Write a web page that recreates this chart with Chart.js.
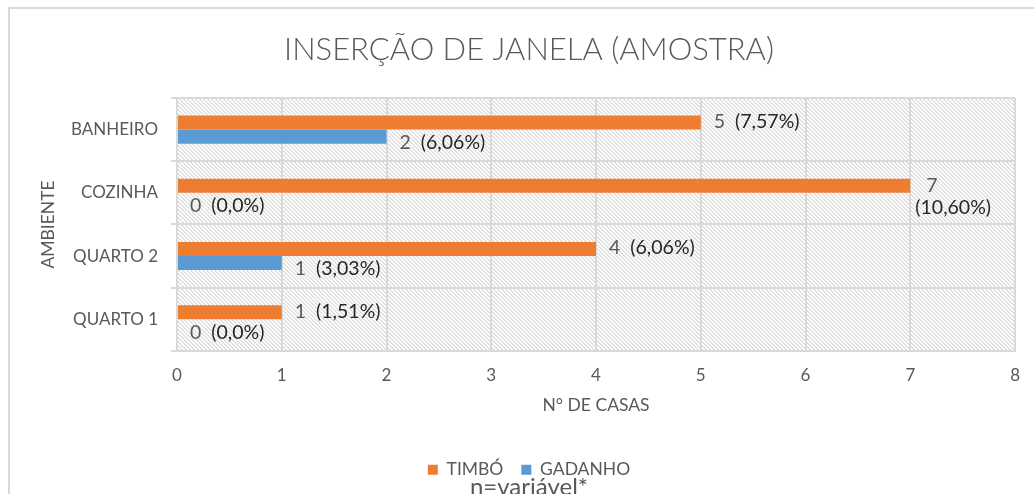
<!DOCTYPE html>
<html>
<head>
  <title>Inserção de janela</title>
  <script src="https://cdn.jsdelivr.net/npm/chart.js"></script>
  <style>
    body { margin: 0; background: #fff; }
    #wrap { width: 1034px; height: 494px; position: relative; }
  </style>
</head>
<body>
  <div id="wrap"><canvas id="chart"></canvas></div>
  <script>
    // data
    const categories = ['BANHEIRO', 'COZINHA', 'QUARTO 2', 'QUARTO 1'];
    const timbo = [5, 7, 4, 1];
    const gadanho = [2, 0, 1, 0];
    const timboPct = ['(7,57%)', '(10,60%)', '(6,06%)', '(1,51%)'];
    const gadanhoPct = ['(6,06%)', '(0,0%)', '(3,03%)', '(0,0%)'];
    const xMin = 0, xMax = 8, xStep = 1;

    const FONT = 'Lato, "Open Sans", sans-serif';
    const GRAY = '#595959';
    const GRID = '#d9d9d9';

    // light diagonal hatch like the Excel plot area fill
    function makeHatch() {
      const c = document.createElement('canvas');
      c.width = 8; c.height = 8;
      const g = c.getContext('2d');
      const img = g.createImageData(8, 8);
      for (let y = 0; y < 8; y++) {
        for (let x = 0; x < 8; x++) {
          const i = (y * 8 + x) * 4;
          const on = ((x - y + 16) % 4) < 2;
          const v = on ? 225 : 255;
          img.data[i] = v; img.data[i + 1] = v; img.data[i + 2] = v; img.data[i + 3] = 255;
        }
      }
      g.putImageData(img, 0, 0);
      return c;
    }
    const hatchTile = makeHatch();

    const backdrop = {
      id: 'backdrop',
      beforeDraw(chart) {
        const ctx = chart.ctx, a = chart.chartArea;
        ctx.save();
        ctx.fillStyle = '#fff';
        ctx.fillRect(0, 0, chart.width, chart.height);
        ctx.strokeStyle = GRID;
        ctx.lineWidth = 2;
        ctx.strokeRect(9, 8, chart.width + 20, chart.height + 20);
        ctx.fillStyle = ctx.createPattern(hatchTile, 'repeat');
        ctx.fillRect(a.left, a.top, a.right - a.left, a.bottom - a.top);
        ctx.restore();
      }
    };

    const pctLabels = [timboPct, gadanhoPct];
    const valueLabels = {
      id: 'valueLabels',
      afterDatasetsDraw(chart) {
        const ctx = chart.ctx, a = chart.chartArea;
        ctx.save();
        ctx.font = '19.5px ' + FONT;
        ctx.textBaseline = 'middle';
        ctx.textAlign = 'left';
        chart.data.datasets.forEach((ds, di) => {
          chart.getDatasetMeta(di).data.forEach((bar, i) => {
            const num = String(ds.data[i]);
            const pct = pctLabels[di][i];
            const x = bar.x + 13;
            const y = bar.y + (di === 0 ? -1 : 6);
            const wNum = ctx.measureText(num).width;
            const wPct = ctx.measureText(pct).width;
            if (x + wNum + 10 + wPct > a.right + 2) {
              // not enough room: wrap the percentage under the number
              ctx.fillStyle = GRAY;
              ctx.fillText(num, x + 3, bar.y);
              ctx.fillStyle = '#262626';
              ctx.fillText(pct, bar.x + 5, bar.y + 22);
            } else {
              ctx.fillStyle = GRAY;
              ctx.fillText(num, x, y);
              ctx.fillStyle = '#262626';
              ctx.fillText(pct, x + wNum + 10, y);
            }
          });
        });
        ctx.restore();
      }
    };

    new Chart(document.getElementById('chart'), {
      type: 'bar',
      data: {
        labels: categories,
        datasets: [
          { label: 'TIMBÓ', data: timbo, backgroundColor: '#ED7D31', categoryPercentage: 0.444, barPercentage: 1 },
          { label: 'GADANHO', data: gadanho, backgroundColor: '#5B9BD5', categoryPercentage: 0.444, barPercentage: 1 }
        ]
      },
      options: {
        indexAxis: 'y',
        responsive: true,
        maintainAspectRatio: false,
        animation: false,
        layout: { padding: { left: 36, right: 12, top: 0, bottom: 0 } },
        plugins: {
          title: {
            display: true,
            text: 'INSERÇÃO DE JANELA (AMOSTRA)',
            color: GRAY,
            font: { family: FONT, size: 31, weight: '300' },
            padding: { top: 31.4, bottom: 29.4 }
          },
          subtitle: {
            display: true,
            position: 'bottom',
            text: 'n=variável*',
            color: GRAY,
            font: { family: FONT, size: 24, weight: 'normal' },
            padding: { top: -15.9, bottom: -7.4 }
          },
          legend: {
            position: 'bottom',
            labels: {
              color: GRAY,
              font: { family: FONT, size: 17.5 },
              boxWidth: 10,
              boxHeight: 10,
              padding: 18
            }
          },
          tooltip: { enabled: false }
        },
        scales: {
          x: {
            min: xMin,
            max: xMax,
            ticks: { stepSize: xStep, color: GRAY, font: { family: FONT, size: 17 }, padding: 14 },
            grid: { color: GRID, lineWidth: 2, drawTicks: false },
            border: { color: GRID, width: 2 },
            title: {
              display: true,
              text: 'N° DE CASAS',
              color: GRAY,
              font: { family: FONT, size: 17.5 },
              padding: { top: 0, bottom: 27.6 }
            },
            afterFit(scale) { scale.height = 92.1; }
          },
          y: {
            ticks: { color: GRAY, font: { family: FONT, size: 17 }, padding: 13 },
            grid: { color: GRID, lineWidth: 2, tickLength: 6, offset: true },
            border: { color: GRID, width: 2 },
            title: {
              display: true,
              text: 'AMBIENTE',
              color: GRAY,
              font: { family: FONT, size: 17.5 },
              padding: { top: 2, bottom: 0 }
            },
            afterFit(scale) { scale.width = 141; }
          }
        }
      },
      plugins: [backdrop, valueLabels]
    });
  </script>
</body>
</html>
